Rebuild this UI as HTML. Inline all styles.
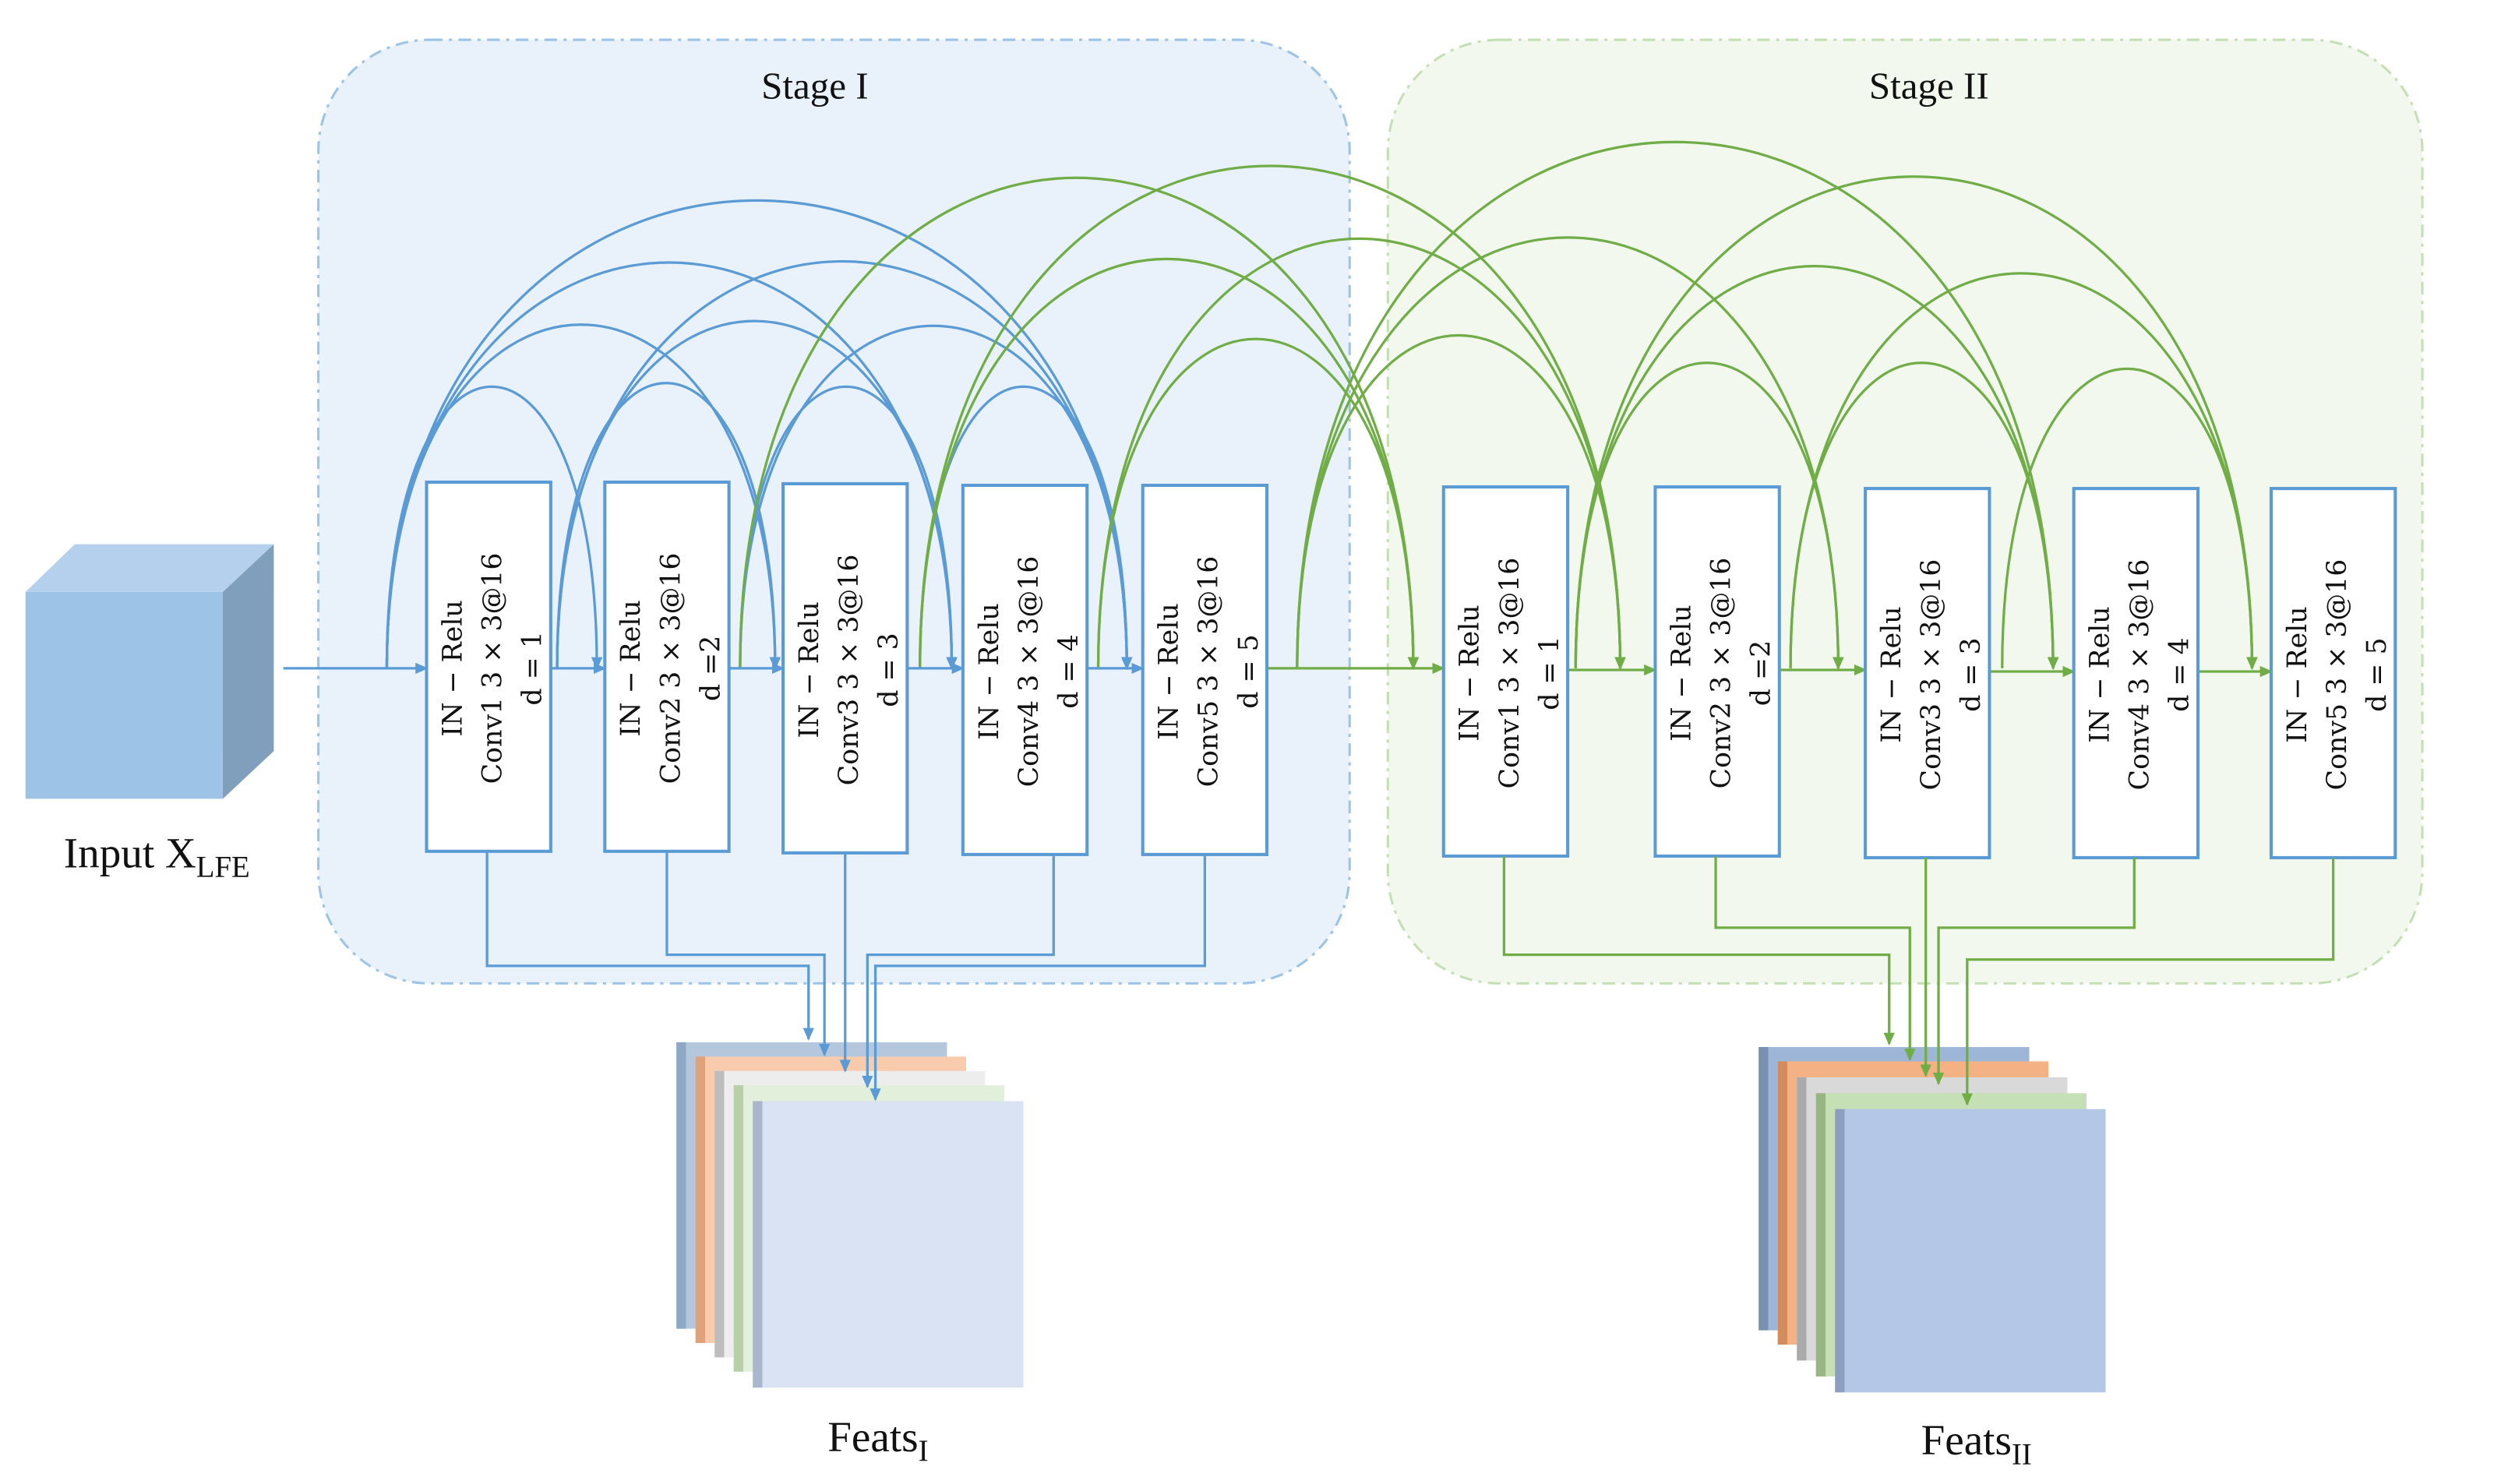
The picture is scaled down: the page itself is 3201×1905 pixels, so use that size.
<!DOCTYPE html>
<html><head><meta charset="utf-8"><style>
html,body{margin:0;padding:0;background:#fff;}
svg{display:block;}
.bt{font-family:"DejaVu Serif","Liberation Serif",serif;font-size:17px;fill:#111;}
.lb{font-family:"Liberation Serif",serif;fill:#111;}
</style></head><body>
<svg width="3201" height="1905" viewBox="0 0 1567 932.6" xmlns="http://www.w3.org/2000/svg">
<defs>
<marker id="ab" markerWidth="8" markerHeight="8" refX="7" refY="4" orient="auto" markerUnits="userSpaceOnUse"><path d="M0,0.5 L8,4 L0,7.5 z" fill="#5b9bd5"/></marker>
<marker id="ag" markerWidth="8" markerHeight="8" refX="7" refY="4" orient="auto" markerUnits="userSpaceOnUse"><path d="M0,0.5 L8,4 L0,7.5 z" fill="#70ad47"/></marker>
</defs>
<rect x="200" y="25" width="648" height="593" rx="70" fill="#e9f2fa" stroke="#9dc3e6" stroke-width="1.5" stroke-dasharray="8,4,2,4"/>
<rect x="872" y="25" width="650" height="593" rx="70" fill="#f2f8ee" stroke="#c5dfb4" stroke-width="1.5" stroke-dasharray="8,4,2,4"/>
<text x="512" y="62" text-anchor="middle" class="lb" font-size="24">Stage I</text>
<text x="1212" y="62" text-anchor="middle" class="lb" font-size="24">Stage II</text>
<polygon points="16,372 47,342 172,342 140,372" fill="#b4d0ec"/>
<polygon points="140,372 172,342 172,472 140,502" fill="#7f9fbd"/>
<rect x="16" y="372" width="124" height="130" fill="#9dc3e6"/>
<text x="40" y="545" class="lb" font-size="27">Input X<tspan font-size="19" dy="6">LFE</tspan></text>
<g fill="none" stroke="#5b9bd5" stroke-width="1.6" marker-end="url(#ab)">
<path d="M243,420 C243,184 375,184 375,420"/>
<path d="M243,420 C243,132 487,132 487,420"/>
<path d="M243,420 C243,80 598,80 598,420"/>
<path d="M243,420 C243,28 708,28 708,420"/>
<path d="M350,420 C350,181 487,181 487,420"/>
<path d="M350,420 C350,129 598,129 598,420"/>
<path d="M350,420 C350,79 708,79 708,420"/>
<path d="M465,420 C465,184 598,184 598,420"/>
<path d="M465,420 C465,133 708,133 708,420"/>
<path d="M578,420 C578,184 708,184 708,420"/>
</g>
<g fill="none" stroke="#70ad47" stroke-width="1.6" marker-end="url(#ag)">
<path d="M465,420 C465,9 888,9 888,420"/>
<path d="M578,420 C578,77 888,77 888,420"/>
<path d="M690,420 C690,144 888,144 888,420"/>
<path d="M578,420 C578,-1 1018,-1 1018,420"/>
<path d="M690,420 C690,60 1018,60 1018,420"/>
<path d="M815,420 C815,141 1018,141 1018,420"/>
<path d="M815,420 C815,59 1155,59 1155,420"/>
<path d="M990,420 C990,164 1155,164 1155,420"/>
<path d="M815,420 C815,-21 1290,-21 1290,420"/>
<path d="M990,420 C990,83 1290,83 1290,420"/>
<path d="M1125,420 C1125,164 1290,164 1290,420"/>
<path d="M990,420 C990,8 1415,8 1415,420"/>
<path d="M1125,420 C1125,89 1415,89 1415,420"/>
<path d="M1258,420 C1258,169 1415,169 1415,420"/>
</g>
<g stroke="#5b9bd5" stroke-width="1.6" marker-end="url(#ab)">
<line x1="178" y1="420" x2="268" y2="420"/>
<line x1="346" y1="420" x2="380" y2="420"/>
<line x1="458" y1="420" x2="492" y2="420"/>
<line x1="570" y1="420" x2="605" y2="420"/>
<line x1="683" y1="420" x2="718" y2="420"/>
</g>
<g stroke="#70ad47" stroke-width="1.6" marker-end="url(#ag)">
<line x1="796" y1="420" x2="907" y2="420"/>
<line x1="985" y1="421" x2="1040" y2="421"/>
<line x1="1118" y1="421" x2="1172" y2="421"/>
<line x1="1250" y1="422" x2="1303" y2="422"/>
<line x1="1381" y1="422" x2="1427" y2="422"/>
</g>
<g fill="#fff" stroke="#5b9bd5" stroke-width="2">
<rect x="268" y="303" width="78" height="232"/>
<rect x="380" y="303" width="78" height="232"/>
<rect x="492" y="304" width="78" height="232"/>
<rect x="605" y="305" width="78" height="232"/>
<rect x="718" y="305" width="78" height="232"/>
<rect x="907" y="306" width="78" height="232"/>
<rect x="1040" y="306" width="78" height="232"/>
<rect x="1172" y="307" width="78" height="232"/>
<rect x="1303" y="307" width="78" height="232"/>
<rect x="1427" y="307" width="78" height="232"/>
</g>
<g class="bt" text-anchor="middle">
<g transform="translate(307,420) rotate(-90)"><text y="-17">IN − Relu</text><text y="8">Conv1 3 × 3@16</text><text y="33">d = 1</text></g>
<g transform="translate(419,420) rotate(-90)"><text y="-17">IN − Relu</text><text y="8">Conv2 3 × 3@16</text><text y="33">d =2</text></g>
<g transform="translate(531,421) rotate(-90)"><text y="-17">IN − Relu</text><text y="8">Conv3 3 × 3@16</text><text y="33">d = 3</text></g>
<g transform="translate(644,422) rotate(-90)"><text y="-17">IN − Relu</text><text y="8">Conv4 3 × 3@16</text><text y="33">d = 4</text></g>
<g transform="translate(757,422) rotate(-90)"><text y="-17">IN − Relu</text><text y="8">Conv5 3 × 3@16</text><text y="33">d = 5</text></g>
<g transform="translate(946,423) rotate(-90)"><text y="-17">IN − Relu</text><text y="8">Conv1 3 × 3@16</text><text y="33">d = 1</text></g>
<g transform="translate(1079,423) rotate(-90)"><text y="-17">IN − Relu</text><text y="8">Conv2 3 × 3@16</text><text y="33">d =2</text></g>
<g transform="translate(1211,424) rotate(-90)"><text y="-17">IN − Relu</text><text y="8">Conv3 3 × 3@16</text><text y="33">d = 3</text></g>
<g transform="translate(1342,424) rotate(-90)"><text y="-17">IN − Relu</text><text y="8">Conv4 3 × 3@16</text><text y="33">d = 4</text></g>
<g transform="translate(1466,424) rotate(-90)"><text y="-17">IN − Relu</text><text y="8">Conv5 3 × 3@16</text><text y="33">d = 5</text></g>
</g>
<g>
<rect x="425" y="655" width="170" height="180" fill="#b4c7dc"/><rect x="425" y="655" width="6" height="180" fill="#8ea9c6"/>
<rect x="437" y="664" width="170" height="180" fill="#f8cbad"/><rect x="437" y="664" width="6" height="180" fill="#e0a27a"/>
<rect x="449" y="673" width="170" height="180" fill="#ededed"/><rect x="449" y="673" width="6" height="180" fill="#bdbdbd"/>
<rect x="461" y="682" width="170" height="180" fill="#e2efda"/><rect x="461" y="682" width="6" height="180" fill="#b8cfa8"/>
<rect x="473" y="692" width="170" height="180" fill="#dae3f3"/><rect x="473" y="692" width="6" height="180" fill="#a9b6cc"/>
</g>
<g>
<rect x="1105" y="658" width="170" height="178" fill="#9db5d6"/><rect x="1105" y="658" width="6" height="178" fill="#7891b0"/>
<rect x="1117" y="667" width="170" height="178" fill="#f4b183"/><rect x="1117" y="667" width="6" height="178" fill="#d48c5c"/>
<rect x="1129" y="677" width="170" height="178" fill="#d9d9d9"/><rect x="1129" y="677" width="6" height="178" fill="#aaaaaa"/>
<rect x="1141" y="687" width="170" height="178" fill="#c5e0b4"/><rect x="1141" y="687" width="6" height="178" fill="#98b585"/>
<rect x="1153" y="697" width="170" height="178" fill="#b4c7e7"/><rect x="1153" y="697" width="6" height="178" fill="#8c9fc0"/>
</g>
<g fill="none" stroke="#5b9bd5" stroke-width="1.6" marker-end="url(#ab)">
<path d="M306,535 V607 H508 V653"/>
<path d="M419,535 V600 H518 V663"/>
<path d="M531,536 V673"/>
<path d="M662,537 V600 H545 V683"/>
<path d="M757,537 V607 H550 V691"/>
</g>
<g fill="none" stroke="#70ad47" stroke-width="1.6" marker-end="url(#ag)">
<path d="M945,538 V600 H1187 V656"/>
<path d="M1078,538 V583 H1200 V666"/>
<path d="M1210,539 V676"/>
<path d="M1341,539 V583 H1218 V681"/>
<path d="M1466,539 V603 H1236 V694"/>
</g>
<text x="520" y="912" class="lb" font-size="27">Feats<tspan font-size="19" dy="6">I</tspan></text>
<text x="1207" y="914" class="lb" font-size="27">Feats<tspan font-size="19" dy="6">II</tspan></text>
</svg>
</body></html>
